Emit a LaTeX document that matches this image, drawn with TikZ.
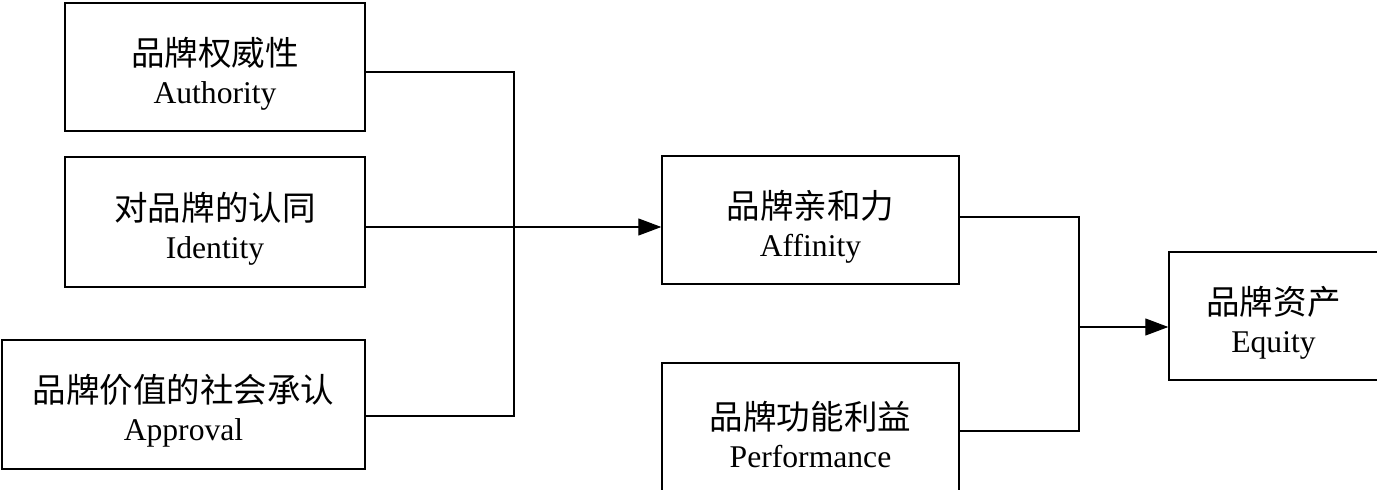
\documentclass[tikz,border=0pt]{standalone}
\usepackage{fontspec}
\setmainfont{Liberation Serif}
\newfontfamily\cjk[Scale = 1.06]{Noto Sans CJK SC}
\usetikzlibrary{arrows.meta}

\tikzset{
  box/.style = {draw, line width = 0.8pt, align = center, inner sep = 0pt,
                font = \fontsize{18}{21.5}\selectfont, text height = 45pt},
  link/.style = {line width = 0.7pt},
  arr/.style = {line width = 0.6pt, -{Triangle[length = 0.46cm, width = 0.34cm]}}
}

\begin{document}
\begin{tikzpicture}[x = 0.02cm, y = -0.02cm]
\useasboundingbox (0, 0) rectangle (1377, 490);
\clip (0, 0) rectangle (1377, 490);
%\draw [very thin, color = gray](0, 0) grid[step = 50] (1377, 490);
\node [box, minimum width = 6cm, minimum height = 2.56cm] (auth) at (215, 67) {{\cjk 品牌权威性}\\Authority};
\node [box, minimum width = 6cm, minimum height = 2.6cm] (iden) at (215, 222) {{\cjk 对品牌的认同}\\Identity};
\node [box, minimum width = 7.26cm, minimum height = 2.58cm] (appr) at (183.5, 404.5) {{\cjk 品牌价值的社会承认}\\Approval};
\node [box, minimum width = 5.94cm, minimum height = 2.56cm] (aff) at (810.5, 220) {{\cjk 品牌亲和力}\\Affinity};
\node [box, minimum width = 5.94cm, minimum height = 2.6cm] (perf) at (810.5, 428) {{\cjk 品牌功能利益}\\Performance};
\node [box, minimum width = 4.18cm, minimum height = 2.56cm] (equ) at (1273.5, 316) {{\cjk 品牌资产}\\Equity};

\coordinate (jl) at (514, 227);
\coordinate (jr) at (1079, 327);

\draw [link] ([yshift = -0.1cm]auth.east) -| (jl);
\draw [link] ([yshift = -0.23cm]appr.east) -| (jl);
\draw [arr] ([yshift = -0.1cm]iden.east) -- ([yshift = -0.1cm]iden.east -| aff.west);
\draw [link] ([yshift = 0.06cm]aff.east) -| (jr);
\draw [link] ([yshift = -0.06cm]perf.east) -| (jr);
\draw [arr] (jr) -- (jr -| equ.west);
\end{tikzpicture}
\end{document}
